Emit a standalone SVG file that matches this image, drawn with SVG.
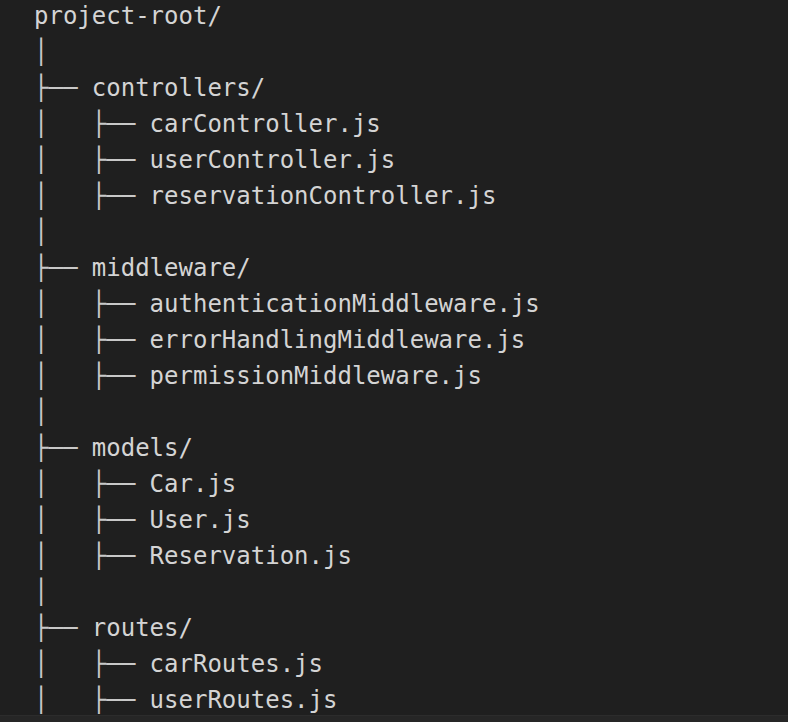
<svg xmlns="http://www.w3.org/2000/svg" width="788" height="722" viewBox="0 0 788 722">
<style>
text{font-family:"DejaVu Sans Mono","Liberation Mono",monospace;font-size:24px;fill:#d4d4d4;white-space:pre}
.tree{fill:#c8c8c8}
</style>
<rect width="788" height="722" fill="#1f1f1f"/>
<rect y="715" width="788" height="7" fill="#262626"/>
<line x1="0" y1="715.5" x2="788" y2="715.5" stroke="#2c2c2c"/>
<g id="connectors" class="tree">
<text class="tree" x="34" y="60">│</text>
<text class="tree" x="34" y="96">├──</text>
<text class="tree" x="34" y="132">│   ├──</text>
<text class="tree" x="34" y="168">│   ├──</text>
<text class="tree" x="34" y="204">│   ├──</text>
<text class="tree" x="34" y="240">│</text>
<text class="tree" x="34" y="276">├──</text>
<text class="tree" x="34" y="312">│   ├──</text>
<text class="tree" x="34" y="348">│   ├──</text>
<text class="tree" x="34" y="384">│   ├──</text>
<text class="tree" x="34" y="420">│</text>
<text class="tree" x="34" y="456">├──</text>
<text class="tree" x="34" y="492">│   ├──</text>
<text class="tree" x="34" y="528">│   ├──</text>
<text class="tree" x="34" y="564">│   ├──</text>
<text class="tree" x="34" y="600">│</text>
<text class="tree" x="34" y="636">├──</text>
<text class="tree" x="34" y="672">│   ├──</text>
<text class="tree" x="34" y="708">│   ├──</text>
</g>
<g id="project-root"><text x="34" y="24">project-root/</text></g>
<g id="controllers"><text x="91.8" y="96">controllers/</text></g>
<g id="carController"><text x="149.6" y="132">carController.js</text></g>
<g id="userController"><text x="149.6" y="168">userController.js</text></g>
<g id="reservationController"><text x="149.6" y="204">reservationController.js</text></g>
<g id="middleware"><text x="91.8" y="276">middleware/</text></g>
<g id="authenticationMiddleware"><text x="149.6" y="312">authenticationMiddleware.js</text></g>
<g id="errorHandlingMiddleware"><text x="149.6" y="348">errorHandlingMiddleware.js</text></g>
<g id="permissionMiddleware"><text x="149.6" y="384">permissionMiddleware.js</text></g>
<g id="models"><text x="91.8" y="456">models/</text></g>
<g id="Car"><text x="149.6" y="492">Car.js</text></g>
<g id="User"><text x="149.6" y="528">User.js</text></g>
<g id="Reservation"><text x="149.6" y="564">Reservation.js</text></g>
<g id="routes"><text x="91.8" y="636">routes/</text></g>
<g id="carRoutes"><text x="149.6" y="672">carRoutes.js</text></g>
<g id="userRoutes"><text x="149.6" y="708">userRoutes.js</text></g>
</svg>
